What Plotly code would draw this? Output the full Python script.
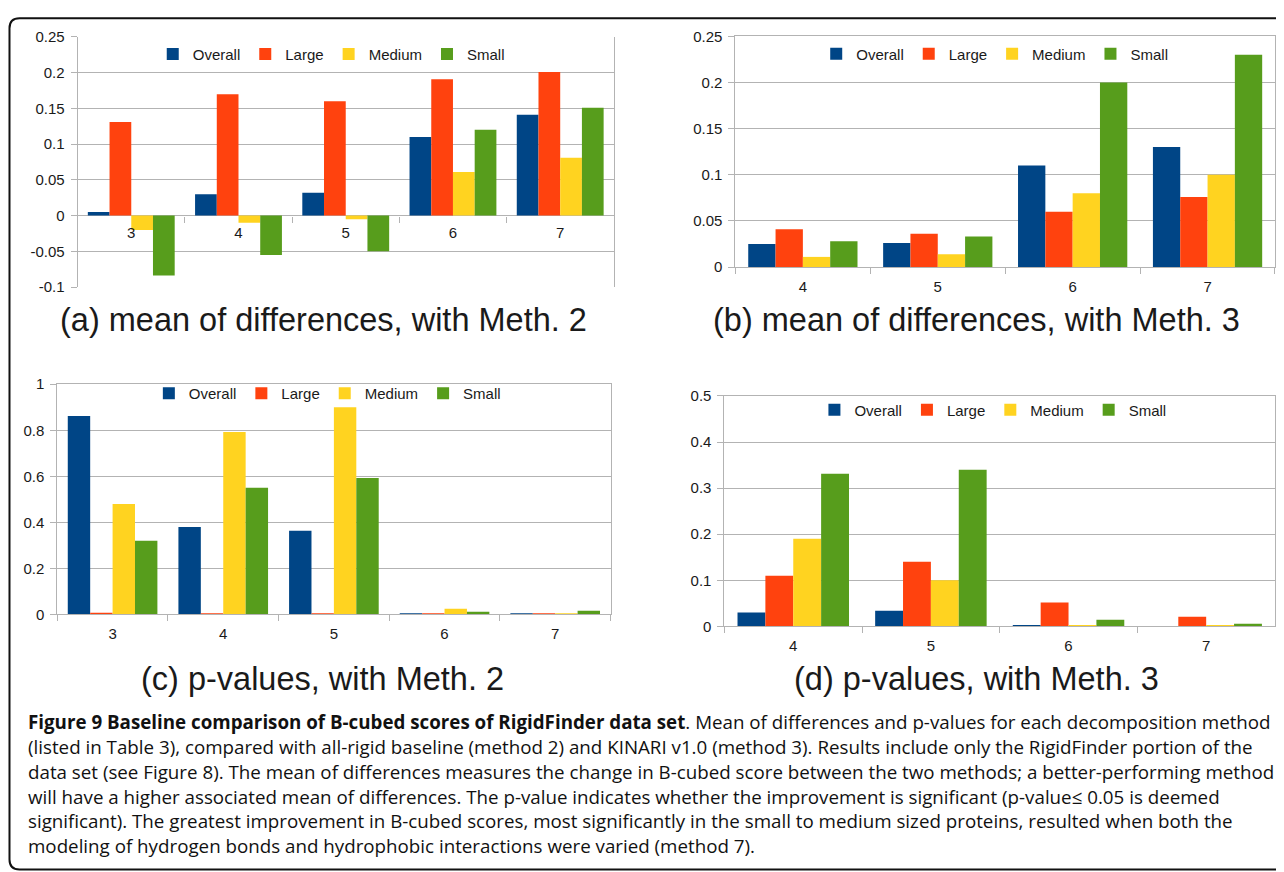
import plotly.graph_objects as go

# Observed placement of the figure in the photographed window:
# window_x = OFF_X + fig_x ; window_y = S_Y * (OFF_Y + fig_y)
OFF_X, OFF_Y, S_Y = 8, 16, 0.9815
W, H = 1268, 873

# ---------------- data ----------------
series_names = ["Overall", "Large", "Medium", "Small"]
series_colors = ["#004586", "#ff420e", "#ffd320", "#579d1c"]

cats_meth2 = ["3", "4", "5", "6", "7"]
cats_meth3 = ["4", "5", "6", "7"]

mean_m2_overall = [0.005, 0.030, 0.032, 0.110, 0.141]
mean_m2_large = [0.131, 0.170, 0.160, 0.191, 0.201]
mean_m2_medium = [-0.020, -0.010, -0.005, 0.061, 0.081]
mean_m2_small = [-0.084, -0.055, -0.050, 0.120, 0.151]

mean_m3_overall = [0.025, 0.026, 0.110, 0.130]
mean_m3_large = [0.041, 0.036, 0.060, 0.076]
mean_m3_medium = [0.011, 0.014, 0.080, 0.100]
mean_m3_small = [0.028, 0.033, 0.200, 0.230]

p_m2_overall = [0.862, 0.380, 0.363, 0.003, 0.002]
p_m2_large = [0.007, 0.003, 0.003, 0.002, 0.002]
p_m2_medium = [0.480, 0.793, 0.900, 0.025, 0.002]
p_m2_small = [0.320, 0.550, 0.593, 0.012, 0.016]

p_m3_overall = [0.030, 0.034, 0.0015, 0.001]
p_m3_large = [0.110, 0.140, 0.052, 0.021]
p_m3_medium = [0.190, 0.100, 0.0015, 0.0015]
p_m3_small = [0.331, 0.340, 0.0145, 0.006]

ytick_a_vals = [-0.1, -0.05, 0, 0.05, 0.1, 0.15, 0.2, 0.25]
ytick_a_text = ["-0.1", "-0.05", "0", "0.05", "0.1", "0.15", "0.2", "0.25"]
ytick_b_vals = [0, 0.05, 0.1, 0.15, 0.2, 0.25]
ytick_b_text = ["0", "0.05", "0.1", "0.15", "0.2", "0.25"]
ytick_c_vals = [0, 0.2, 0.4, 0.6, 0.8, 1]
ytick_c_text = ["0", "0.2", "0.4", "0.6", "0.8", "1"]
ytick_d_vals = [0, 0.1, 0.2, 0.3, 0.4, 0.5]
ytick_d_text = ["0", "0.1", "0.2", "0.3", "0.4", "0.5"]

panel_titles = [
    "(a) mean of differences, with Meth. 2",
    "(b) mean of differences, with Meth. 3",
    "(c) p-values, with Meth. 2",
    "(d) p-values, with Meth. 3",
]

caption_lines = [
    "<b>Figure 9 Baseline comparison of B-cubed scores of RigidFinder data set</b>. Mean of differences and p-values for each decomposition method",
    "(listed in Table 3), compared with all-rigid baseline (method 2) and KINARI v1.0 (method 3). Results include only the RigidFinder portion of the",
    "data set (see Figure 8). The mean of differences measures the change in B-cubed score between the two methods; a better-performing method",
    "will have a higher associated mean of differences. The p-value indicates whether the improvement is significant (p-value\u2264 0.05 is deemed",
    "significant). The greatest improvement in B-cubed scores, most significantly in the small to medium sized proteins, resulted when both the",
    "modeling of hydrogen bonds and hydrophobic interactions were varied (method 7).",
]

# ---------------- layout helpers (window pixels -> paper fractions) ----------------
def fx(px):
    return (px - OFF_X) / W

def fy(py):
    return 1 - (py / S_Y - OFF_Y) / H

def clamp(v):
    return max(0.0, min(1.0, v))

GRID = "#b3b3b3"
TICKFONT = dict(family="Liberation Sans, Arial, sans-serif", size=15, color="#1a1a1a")

panels = [
    dict(x=(77.7, 614.3), y=(35.7, 286.0), rng=[-0.1, 0.25], cats=cats_meth2,
         vals=[mean_m2_overall, mean_m2_large, mean_m2_medium, mean_m2_small],
         tv=ytick_a_vals, tt=ytick_a_text, legxy=(331.5, 53.0)),
    dict(x=(736.0, 1278.3), y=(35.0, 266.0), rng=[0, 0.25], cats=cats_meth3,
         vals=[mean_m3_overall, mean_m3_large, mean_m3_medium, mean_m3_small],
         tv=ytick_b_vals, tt=ytick_b_text, legxy=(995.5, 52.7)),
    dict(x=(57.3, 611.0), y=(383.3, 613.7), rng=[0, 1], cats=cats_meth2,
         vals=[p_m2_overall, p_m2_large, p_m2_medium, p_m2_small],
         tv=ytick_c_vals, tt=ytick_c_text, legxy=(327.6, 392.7)),
    dict(x=(725.0, 1276.0), y=(395.0, 625.7), rng=[0, 0.5], cats=cats_meth3,
         vals=[p_m3_overall, p_m3_large, p_m3_medium, p_m3_small],
         tv=ytick_d_vals, tt=ytick_d_text, legxy=(993.7, 409.0)),
]

fig = go.Figure()
layout = dict(
    width=W, height=H, autosize=False,
    margin=dict(l=0, r=0, t=0, b=0),
    paper_bgcolor="white", plot_bgcolor="white",
    bargap=0.19, bargroupgap=0, barmode="group",
    showlegend=True,
)

for i, p in enumerate(panels):
    n = "" if i == 0 else str(i + 1)
    xa, ya = "x" + n, "y" + n
    leg = "legend" + n
    for s, (name, col) in enumerate(zip(series_names, series_colors)):
        fig.add_trace(go.Bar(
            x=p["cats"], y=p["vals"][s], name=name,
            marker=dict(color=col, line=dict(width=0)),
            xaxis=xa, yaxis=ya, legend=leg,
        ))
    ydom = [clamp(fy(p["y"][1])), clamp(fy(p["y"][0]))]
    xdom = [clamp(fx(p["x"][0])), clamp(fx(p["x"][1]))]
    yax = dict(
        domain=ydom, range=p["rng"], anchor=xa,
        tickvals=p["tv"], ticktext=p["tt"], tickfont=TICKFONT,
        showgrid=True, gridcolor=GRID, gridwidth=1,
        zeroline=True, zerolinecolor=GRID, zerolinewidth=1,
        showline=True, linecolor=GRID, linewidth=1, mirror=True,
        ticks="outside", ticklen=6, tickcolor=GRID, ticklabelstandoff=3,
        fixedrange=True,
    )
    xax = dict(
        domain=xdom, type="category", categoryorder="array", categoryarray=p["cats"],
        tickfont=TICKFONT, showgrid=False, zeroline=False,
        ticks="outside", tickson="boundaries", ticklen=6, tickcolor=GRID,
        ticklabelstandoff=6, fixedrange=True,
    )
    if i == 0:
        r0, r1 = p["rng"]
        zero_pos = ydom[0] + (0 - r0) / (r1 - r0) * (ydom[1] - ydom[0])
        xax.update(anchor="free", position=zero_pos, showline=False)
    else:
        xax.update(anchor=ya, showline=True, linecolor=GRID, linewidth=1, mirror=True)
    layout["xaxis" + n] = xax
    layout["yaxis" + n] = yax
    layout[leg] = dict(
        orientation="h", x=fx(p["legxy"][0]), y=fy(p["legxy"][1]),
        xanchor="center", yanchor="middle", xref="paper", yref="paper",
        bgcolor="rgba(0,0,0,0)", font=TICKFONT,
        itemwidth=30, tracegroupgap=0,
    )

fig.update_layout(**layout)

# panel sub-captions
title_pos = [(324, 319), (977, 319), (323, 678), (977, 678)]
for t, (cx, cy) in zip(panel_titles, title_pos):
    fig.add_annotation(
        text=t, x=fx(cx), y=fy(cy), xref="paper", yref="paper",
        xanchor="center", yanchor="middle", showarrow=False,
        font=dict(family="Liberation Sans, Arial, sans-serif", size=32.5, color="#1a1a1a"),
    )

# figure caption lines
line_y0, line_dy = 720.5, 25.0
for k, line in enumerate(caption_lines):
    fig.add_annotation(
        text=line, x=fx(26), y=fy(line_y0 + k * line_dy), xref="paper", yref="paper",
        xanchor="left", yanchor="middle", showarrow=False, align="left",
        font=dict(family="Open Sans, sans-serif", size=18.75, color="#111111"),
    )

# rounded frame around figure (left/top/bottom visible)
x0, xt, yt, yb, r = 9.5, 1300.0, 17.0, 869.0, 10.0
path = (
    f"M {fx(x0)},{fy(yt + r)} L {fx(x0)},{fy(yb - r)} "
    f"Q {fx(x0)},{fy(yb)} {fx(x0 + r)},{fy(yb)} L {fx(xt)},{fy(yb)} "
    f"L {fx(xt)},{fy(yt)} L {fx(x0 + r)},{fy(yt)} "
    f"Q {fx(x0)},{fy(yt)} {fx(x0)},{fy(yt + r)} Z"
)
fig.add_shape(type="path", path=path, xref="paper", yref="paper",
              line=dict(color="#111111", width=2), fillcolor="rgba(0,0,0,0)", layer="above")

fig.write_html("out.html")
